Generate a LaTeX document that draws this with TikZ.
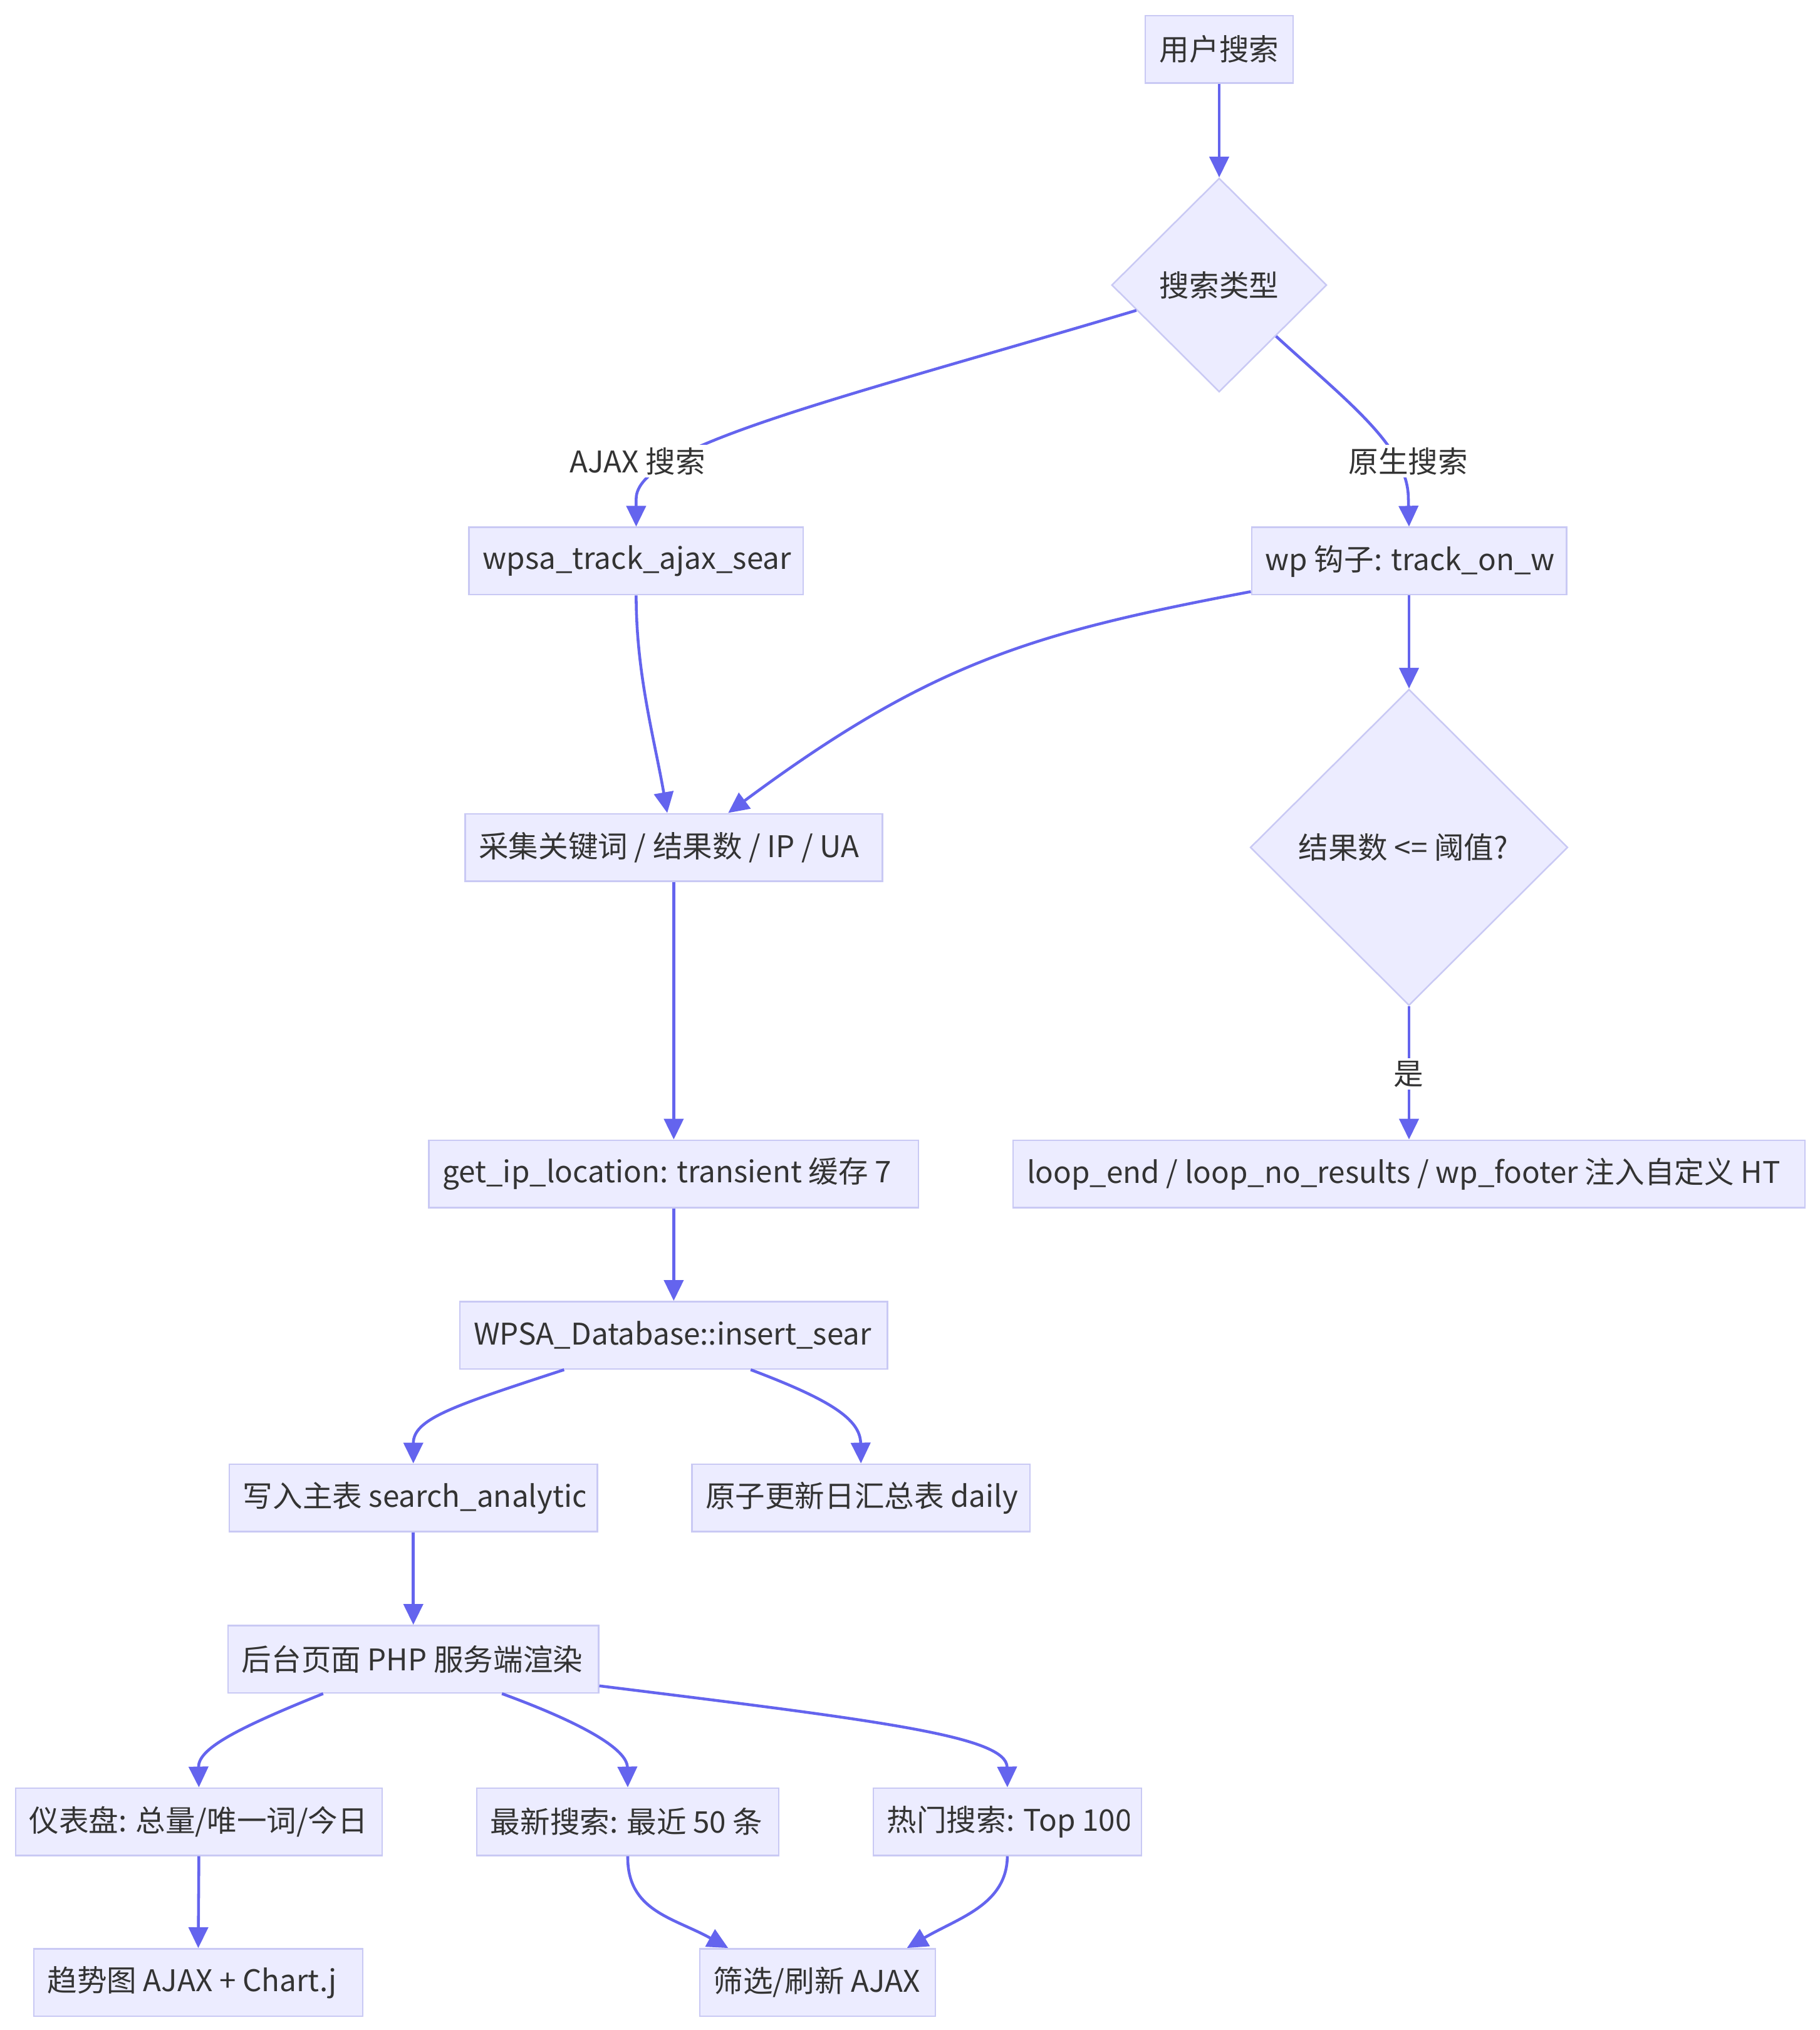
\documentclass[tikz,border=0pt]{standalone}
\usepackage{fontspec}
\setmainfont{Noto Sans CJK SC}
\usetikzlibrary{arrows.meta,shapes.geometric}
\definecolor{nfill}{HTML}{ECECFF}
\definecolor{nline}{HTML}{C9C9F4}
\definecolor{eline}{HTML}{6464EE}
\definecolor{tcol}{HTML}{333333}
\newcommand\tbox[5]{%
  \node[box, minimum width=#4pt] (#1) at (#2,#3) {};
  \begin{scope}
    \clip ([xshift=10pt,yshift=-2pt]#1.south west) rectangle ([xshift=-10pt,yshift=2pt]#1.north east);
    \node[txt, anchor=west] at ([xshift=11pt]#1.west) {#5};
  \end{scope}}
\begin{document}
\begin{tikzpicture}[x=1pt,y=-1pt,
  box/.style={rectangle, draw=nline, fill=nfill, line width=1.2pt, minimum height=52pt, inner sep=0pt},
  dia/.style={diamond, draw=nline, fill=nfill, line width=1.2pt, inner sep=0pt},
  txt/.style={text=tcol, font=\fontsize{23}{27}\selectfont, inner sep=0pt},
  edge/.style={draw=eline, line width=2.2pt, -{Triangle[length=16pt,width=15pt]}},
  lab/.style={txt, fill=white, inner sep=2pt}]
\useasboundingbox[fill=white] (0,0) rectangle (1404.3,1566.7);

% nodes
\node[box, txt, minimum width=114pt] (n1) at (941,38) {用户搜索};
\node[dia, minimum width=166pt, minimum height=165pt] (d1) at (941,220) {};
\node[txt] at (941,220) {搜索类型};
\tbox{n2}{491}{433}{258}{wpsa\_track\_ajax\_searc}
\tbox{n3}{1087.5}{433}{243}{wp 钩子: track\_on\_w}
\tbox{n4}{520}{654}{322}{采集关键词 / 结果数 / IP / UA}
\node[dia, minimum width=245pt, minimum height=244pt] (d2) at (1087.5,654) {};
\begin{scope}
  \clip (1000,630) rectangle (1176,680);
  \node[txt, anchor=west] at (1002,654) {结果数 <= 阈值?};
\end{scope}
\tbox{n5}{520}{906}{378}{get\_ip\_location: transient 缓存 7}
\tbox{n6}{1087.5}{906}{611}{loop\_end / loop\_no\_results / wp\_footer 注入自定义 HT}
\tbox{n7}{520}{1030.5}{330}{WPSA\_Database::insert\_sear}
\tbox{n8}{319}{1156}{284}{写入主表 search\_analytic}
\tbox{n9}{664.5}{1156}{261}{原子更新日汇总表 daily}
\tbox{n10}{319}{1280.5}{286}{后台页面 PHP 服务端渲染}
\tbox{n11}{153.5}{1406}{283}{仪表盘: 总量/唯一词/今日}
\tbox{n12}{484.5}{1406}{233}{最新搜索: 最近 50 条}
\tbox{n13}{777.5}{1406}{207}{热门搜索: Top 100}
\tbox{n14}{153}{1530}{254}{趋势图 AJAX + Chart.j}
\tbox{n15}{631}{1530}{182}{筛选/刷新 AJAX}

% edges
\draw[edge] (n1.south) -- (d1.north);
\draw[edge] (d1.197) .. controls (640,310) and (491,345) .. (491,385) -- (n2.north);
\draw[edge] (d1.-42) .. controls (1040,310) and (1087,345) .. (1087,385) -- (n3.north);
\draw[edge] (n2.south) .. controls (491,520) and (505,570) .. (n4.north west -| 515,0);
\draw[edge] ([yshift=3pt]n3.south west) .. controls (800,488) and (720,510) .. (n4.north west -| 562,0);
\draw[edge] (n3.south) -- (d2.north);
\draw[edge] (n4.south) -- (n5.north);
\draw[edge] (d2.south) -- (n6.north);
\draw[edge] (n5.south) -- (n7.north);
\draw[edge] ([xshift=81pt]n7.south west) .. controls (350,1085) and (319,1095) .. (n8.north);
\draw[edge] ([xshift=225pt]n7.south west) .. controls (640,1080) and (664,1095) .. (n9.north);
\draw[edge] (n8.south) -- (n10.north);
\draw[edge] ([xshift=74pt]n10.south west) .. controls (180,1335) and (153,1350) .. (n11.north);
\draw[edge] ([xshift=212pt]n10.south west) .. controls (450,1330) and (484,1350) .. (n12.north);
\draw[edge] ([yshift=6pt]n10.south east) .. controls (680,1328) and (777,1340) .. (n13.north);
\draw[edge] (n11.south) -- (n14.north);
\draw[edge] (n12.south) .. controls (484,1475) and (520,1480) .. (n15.north west -| 562,0);
\draw[edge] (n13.south) .. controls (777,1470) and (740,1480) .. (n15.north west -| 700,0);

% edge labels
\node[lab] (l1) at (492,356) {AJAX 搜索};
\node[lab] (l2) at (1087,356) {原生搜索};
\node[lab] (l3) at (1087,829) {是};
\end{tikzpicture}
\end{document}
